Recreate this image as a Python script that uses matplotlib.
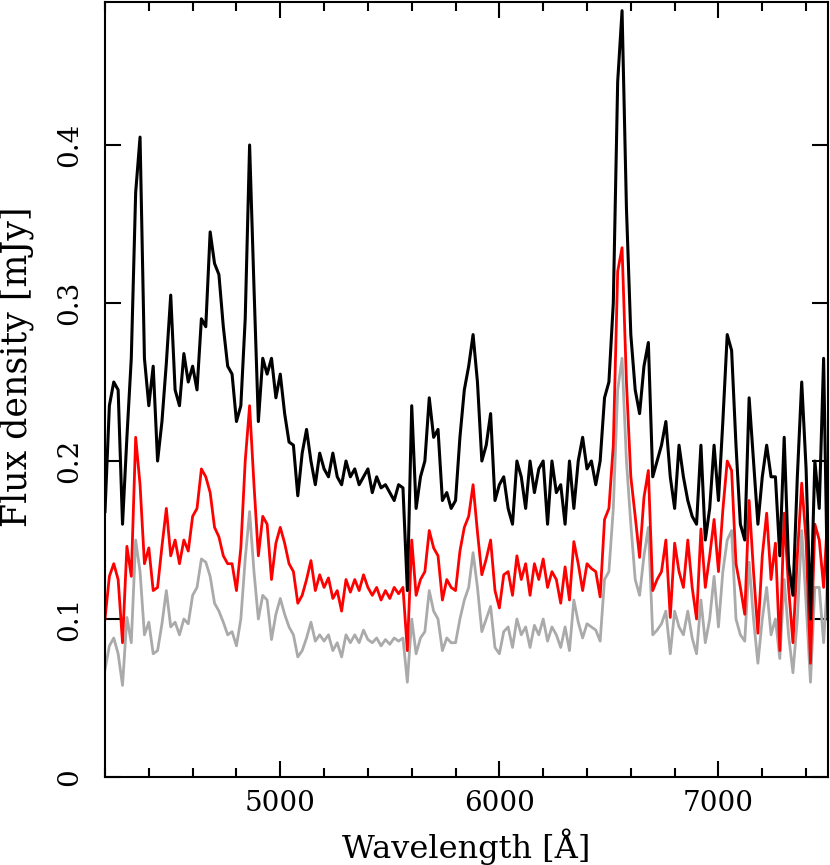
"""
Espectro: densidade de fluxo vs comprimento de onda (tres epocas)
"""
import numpy as np
import matplotlib.pyplot as plt
from matplotlib.ticker import MultipleLocator

plt.rcParams.update({
    "font.family": "DejaVu Serif",
    "font.size": 20,
    "axes.linewidth": 1.5,
})

# grade em comprimento de onda (Angstrom), passo de 20 A
wave = np.arange(4200, 7501, 20)

flux_black = [
    0.168, 0.235, 0.25, 0.245, 0.16, 0.215, 0.265, 0.37, 0.405, 0.265,
    0.235, 0.26, 0.20, 0.225, 0.262, 0.305, 0.245, 0.235, 0.268, 0.25,
    0.26, 0.245, 0.29, 0.285, 0.345, 0.325, 0.318, 0.285, 0.26, 0.255,
    0.225, 0.235, 0.29, 0.40, 0.31, 0.225, 0.265, 0.255, 0.265, 0.24,
    0.255, 0.23, 0.212, 0.21, 0.178, 0.205, 0.22, 0.20, 0.185, 0.205,
    0.195, 0.19, 0.205, 0.19, 0.185, 0.20, 0.19, 0.195, 0.185, 0.19,
    0.195, 0.18, 0.19, 0.183, 0.185, 0.18, 0.175, 0.185, 0.183, 0.118,
    0.235, 0.17, 0.19, 0.20, 0.24, 0.215, 0.22, 0.175, 0.18, 0.17,
    0.175, 0.215, 0.245, 0.26, 0.28, 0.25, 0.20, 0.21, 0.23, 0.175,
    0.185, 0.19, 0.17, 0.16, 0.20, 0.19, 0.17, 0.20, 0.18, 0.195,
    0.20, 0.16, 0.20, 0.18, 0.185, 0.16, 0.20, 0.17, 0.20, 0.215,
    0.195, 0.20, 0.185, 0.20, 0.24, 0.25, 0.30, 0.44, 0.485, 0.36,
    0.28, 0.245, 0.23, 0.26, 0.275, 0.19, 0.20, 0.21, 0.225, 0.19,
    0.17, 0.21, 0.19, 0.175, 0.165, 0.16, 0.21, 0.15, 0.17, 0.21,
    0.175, 0.225, 0.28, 0.27, 0.21, 0.16, 0.15, 0.24, 0.20, 0.16,
    0.19, 0.21, 0.19, 0.19, 0.14, 0.215, 0.135, 0.115, 0.19, 0.25,
    0.195, 0.10, 0.20, 0.17, 0.265, 0.10,
]

flux_red = [
    0.100, 0.127, 0.135, 0.125, 0.085, 0.146, 0.127, 0.215, 0.185, 0.135,
    0.145, 0.118, 0.12, 0.146, 0.17, 0.14, 0.15, 0.135, 0.15, 0.143,
    0.165, 0.17, 0.195, 0.19, 0.18, 0.158, 0.152, 0.14, 0.135, 0.135,
    0.118, 0.145, 0.20, 0.235, 0.185, 0.14, 0.165, 0.16, 0.125, 0.148,
    0.158, 0.148, 0.135, 0.13, 0.11, 0.115, 0.125, 0.137, 0.118, 0.128,
    0.12, 0.126, 0.113, 0.118, 0.105, 0.125, 0.117, 0.125, 0.118, 0.128,
    0.12, 0.115, 0.12, 0.112, 0.118, 0.113, 0.12, 0.116, 0.12, 0.08,
    0.15, 0.115, 0.125, 0.13, 0.156, 0.145, 0.14, 0.112, 0.125, 0.12,
    0.118, 0.143, 0.158, 0.165, 0.185, 0.155, 0.128, 0.138, 0.15, 0.118,
    0.107, 0.128, 0.13, 0.115, 0.14, 0.125, 0.135, 0.115, 0.135, 0.125,
    0.138, 0.12, 0.13, 0.125, 0.11, 0.133, 0.112, 0.149, 0.135, 0.118,
    0.135, 0.132, 0.13, 0.114, 0.163, 0.17, 0.21, 0.32, 0.335, 0.25,
    0.19, 0.165, 0.139, 0.177, 0.194, 0.118, 0.125, 0.13, 0.15, 0.101,
    0.148, 0.13, 0.12, 0.15, 0.12, 0.10, 0.157, 0.12, 0.14, 0.163,
    0.13, 0.169, 0.20, 0.194, 0.135, 0.12, 0.103, 0.175, 0.13, 0.091,
    0.14, 0.167, 0.125, 0.148, 0.08, 0.167, 0.12, 0.085, 0.14, 0.186,
    0.15, 0.072, 0.16, 0.15, 0.12, 0.17,
]

flux_gray = [
    0.068, 0.083, 0.088, 0.078, 0.058, 0.101, 0.085, 0.15, 0.13, 0.09,
    0.098, 0.078, 0.08, 0.097, 0.118, 0.095, 0.098, 0.09, 0.10, 0.097,
    0.115, 0.12, 0.138, 0.136, 0.127, 0.11, 0.105, 0.098, 0.09, 0.092,
    0.083, 0.10, 0.138, 0.168, 0.13, 0.10, 0.115, 0.112, 0.087, 0.103,
    0.113, 0.103, 0.095, 0.09, 0.076, 0.08, 0.088, 0.098, 0.086, 0.09,
    0.086, 0.09, 0.08, 0.085, 0.076, 0.09, 0.085, 0.09, 0.085, 0.093,
    0.087, 0.085, 0.088, 0.083, 0.087, 0.084, 0.088, 0.086, 0.088, 0.06,
    0.10, 0.078, 0.088, 0.092, 0.118, 0.105, 0.10, 0.08, 0.088, 0.085,
    0.085, 0.10, 0.112, 0.12, 0.142, 0.12, 0.092, 0.10, 0.108, 0.082,
    0.078, 0.092, 0.095, 0.082, 0.10, 0.09, 0.095, 0.082, 0.096, 0.09,
    0.10, 0.086, 0.095, 0.09, 0.082, 0.095, 0.08, 0.112, 0.098, 0.088,
    0.097, 0.095, 0.093, 0.086, 0.125, 0.13, 0.17, 0.245, 0.265, 0.20,
    0.16, 0.125, 0.115, 0.14, 0.158, 0.09, 0.093, 0.097, 0.105, 0.078,
    0.105, 0.095, 0.09, 0.105, 0.088, 0.078, 0.112, 0.085, 0.10, 0.127,
    0.095, 0.13, 0.15, 0.156, 0.10, 0.09, 0.086, 0.136, 0.10, 0.072,
    0.10, 0.12, 0.09, 0.10, 0.075, 0.125, 0.09, 0.066, 0.10, 0.156,
    0.11, 0.06, 0.12, 0.12, 0.085, 0.13,
]

fig = plt.figure(figsize=(8.3, 8.65), dpi=100)
ax = fig.add_axes([0.1265, 0.1017, 0.8711, 0.896])

ax.plot(wave, flux_gray, color="#aaaaaa", lw=2.0)
ax.plot(wave, flux_red, color="red", lw=2.0)
ax.plot(wave, flux_black, color="black", lw=2.2)

ax.set_xlim(4200, 7500)
ax.set_ylim(0, 0.4905)

ax.xaxis.set_major_locator(MultipleLocator(1000))
ax.xaxis.set_minor_locator(MultipleLocator(200))
ax.yaxis.set_major_locator(MultipleLocator(0.1))
ax.tick_params(which="both", direction="in", top=True, right=True, width=1.5)
ax.tick_params(which="major", length=11.5)
ax.tick_params(which="minor", length=6.5)
ax.tick_params(axis="x", pad=9)
ax.tick_params(axis="y", pad=16)
ax.set_yticks([0, 0.1, 0.2, 0.3, 0.4], ["0", "0.1", "0.2", "0.3", "0.4"])
for lab in ax.get_yticklabels():
    lab.set_rotation(90)
    lab.set_va("center")

ax.set_xlabel("Wavelength [Å]", fontsize=23)
ax.set_ylabel("Flux density [mJy]", fontsize=25)
ax.xaxis.set_label_coords(0.5, -0.066)
ax.yaxis.set_label_coords(-0.098, 0.53)

fig.savefig("out.png", dpi=100)
